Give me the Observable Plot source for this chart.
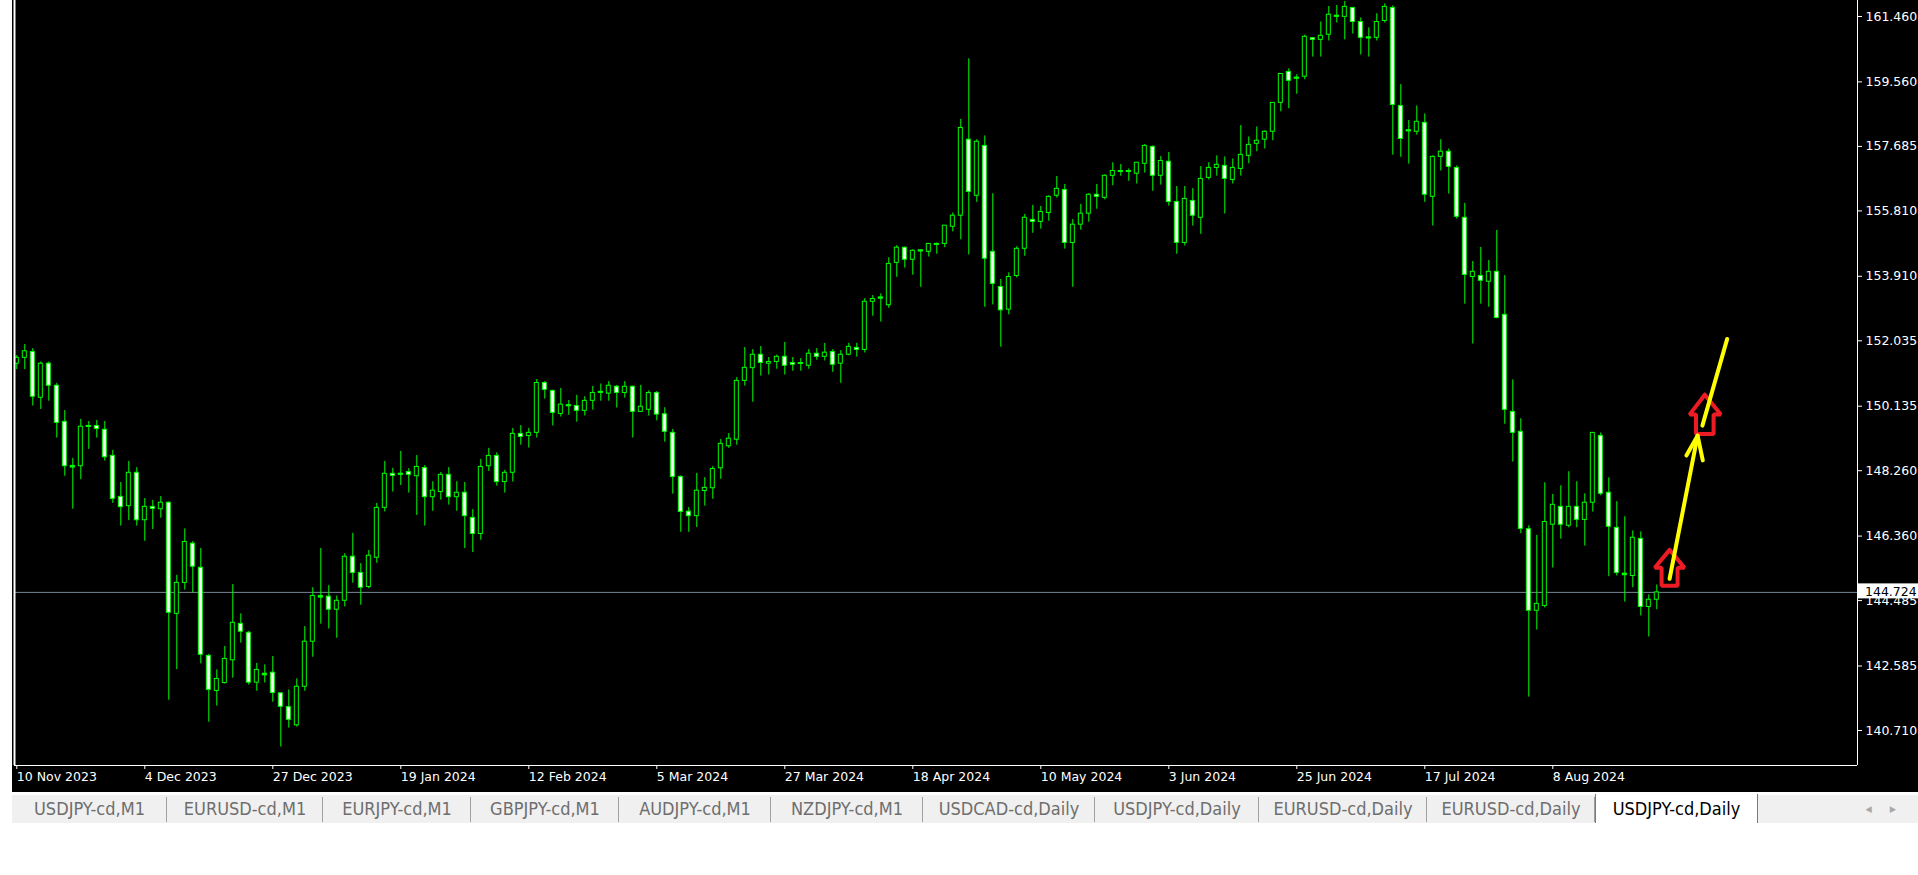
<!DOCTYPE html>
<html><head><meta charset="utf-8">
<script src="https://cdn.jsdelivr.net/npm/d3@7"></script>
<script src="https://cdn.jsdelivr.net/npm/@observablehq/plot@0.6"></script>
<style>
html,body{margin:0;padding:0;background:#fff;width:1918px;height:875px;overflow:hidden;}
#chart{position:absolute;left:12px;top:0;}
#tabs{position:absolute;left:12px;top:795px;width:1906px;height:28px;background:#f0f0f0;display:flex;
  font-family:"DejaVu Sans Condensed","DejaVu Sans",sans-serif;font-stretch:condensed;font-size:18px;color:#6e6e6e;}
.tab{line-height:28px;position:relative;white-space:nowrap;box-sizing:border-box;text-align:center;flex:none;}
.tab::after{content:"";position:absolute;right:0;top:2px;bottom:1px;border-right:1px solid #a0a0a0;}
.tab.active{background:#fff;color:#000;margin-top:-1px;height:29px;line-height:29px;border-left:1px solid #7a7a7a;border-right:1px solid #7a7a7a;}
.tab.active::after{display:none;}
#scroll{position:absolute;right:4px;top:0;line-height:28px;font-size:9px;color:#a8a8a8;letter-spacing:18px;font-family:"DejaVu Sans",sans-serif;}
</style></head>
<body>
<div id="chart"></div>
<div id="tabs"></div>
<script>
// ---- data (USDJPY daily, bar index 0 = 10 Nov 2023) ----
const opens = [
151.37,151.54,151.71,150.38,151.37,150.73,149.68,148.40,148.39,149.54,
149.56,149.45,148.69,147.50,147.23,148.20,146.82,147.21,147.14,147.33,
144.10,145.00,146.14,145.44,142.88,141.86,142.09,142.75,143.81,143.55,
142.10,142.36,142.39,141.79,141.39,140.86,141.98,143.29,144.62,144.60,
144.22,144.48,145.76,145.29,144.88,145.73,147.18,148.17,148.15,148.22,
148.10,148.34,147.49,147.64,148.14,147.49,147.62,146.89,146.42,148.39,
148.69,147.93,148.20,149.33,149.27,149.36,150.81,150.58,149.91,150.14,
150.14,150.00,150.29,150.53,150.50,150.70,150.52,150.70,149.97,150.03,
150.52,149.90,149.36,148.08,147.07,146.94,147.67,147.75,148.33,148.97,
149.16,150.87,151.24,151.63,151.37,151.42,151.57,151.39,151.37,151.31,
151.66,151.57,151.71,151.37,151.63,151.83,151.77,153.17,153.27,153.07,
154.30,154.74,154.39,154.64,154.62,154.83,154.85,155.35,155.67,157.88,
156.25,157.70,154.62,153.60,152.94,153.92,154.71,155.55,155.49,155.75,
156.25,156.42,154.88,155.41,155.73,156.28,156.19,156.83,156.95,156.95,
156.89,157.18,157.67,156.83,157.24,156.07,154.88,156.10,155.61,156.77,
157.06,157.12,156.71,157.03,157.41,157.76,157.88,158.11,158.95,159.85,
159.66,159.71,160.83,160.78,160.93,161.46,161.45,161.71,161.30,160.83,
160.84,161.33,161.71,158.86,158.13,158.11,158.37,156.22,157.38,157.53,
157.06,155.61,153.89,153.92,153.75,154.04,152.79,149.97,149.39,146.56,
144.19,144.33,146.69,147.21,146.66,147.21,146.83,147.33,149.27,147.62,
146.60,145.27,145.20,146.28,144.30,144.51];
const highs = [
151.61,151.93,151.81,151.42,151.42,150.80,150.01,148.62,149.75,149.69,
149.72,149.69,148.85,147.92,148.53,148.35,147.45,147.40,147.51,147.35,
145.22,146.57,146.20,146.00,142.92,142.47,143.15,144.95,144.10,143.59,
142.66,142.62,142.86,141.80,141.89,142.21,143.73,144.86,146.00,144.92,
144.62,145.85,146.44,145.56,145.94,147.31,148.53,148.33,148.82,148.32,
148.70,148.41,147.94,148.21,148.35,147.94,147.92,147.13,148.59,148.91,
148.78,148.27,149.49,149.57,149.49,150.91,150.85,150.60,150.65,150.30,
150.45,150.41,150.71,150.78,150.85,150.74,150.85,150.72,150.74,150.58,
150.56,150.09,149.46,148.11,147.19,148.18,148.06,148.38,149.17,149.34,
150.97,151.84,151.78,151.87,151.55,151.62,151.99,151.55,151.52,151.78,
151.81,151.96,151.78,151.75,151.96,151.96,153.26,153.35,153.40,154.45,
154.80,154.76,154.68,154.68,154.86,154.88,155.38,155.75,158.47,160.23,
157.88,157.99,156.31,153.82,154.01,154.77,155.71,155.97,155.94,156.25,
156.81,156.58,155.56,156.00,156.31,156.58,156.86,157.21,157.16,157.03,
157.21,157.74,157.70,157.39,157.51,156.52,156.52,156.46,157.10,157.21,
157.41,157.38,157.32,158.29,157.96,158.25,158.14,158.95,159.79,159.94,
159.77,160.92,160.83,161.30,161.75,161.78,161.90,161.71,161.42,161.13,
161.54,161.83,161.77,159.48,158.44,158.86,158.63,157.41,157.88,157.61,
157.12,156.03,154.34,154.75,154.37,155.24,153.93,150.90,149.77,146.66,
146.38,147.91,147.57,147.82,148.23,147.94,147.59,149.36,149.36,148.05,
147.36,146.92,146.51,146.48,144.65,144.94];
const lows = [
151.20,151.20,150.14,150.04,150.28,149.21,148.10,147.14,148.00,148.88,
149.21,148.54,147.31,146.65,146.81,146.65,146.21,146.55,146.88,141.59,
142.48,144.79,144.71,142.65,140.95,141.42,142.06,142.23,143.25,142.03,
141.85,142.09,141.53,140.23,140.78,140.81,141.85,142.84,143.80,143.66,
143.39,144.30,144.99,144.35,144.83,145.57,147.06,147.64,147.83,147.61,
146.96,146.65,147.08,147.40,147.26,147.08,146.00,145.88,146.24,148.24,
147.81,147.61,147.93,149.00,148.92,149.21,150.34,149.56,149.82,149.87,
149.67,149.85,150.02,150.28,150.28,150.08,150.37,149.21,149.95,149.85,
149.71,149.09,147.58,146.47,146.47,146.61,147.23,147.43,148.01,148.91,
149.00,150.72,150.25,151.01,151.04,151.21,151.04,151.15,151.15,151.21,
151.47,151.45,151.12,150.80,151.60,151.56,151.68,152.75,152.58,152.98,
153.88,154.15,153.94,153.59,154.47,154.55,154.74,155.20,154.97,154.53,
156.06,153.01,153.08,151.85,152.79,153.86,154.49,155.16,155.28,155.51,
156.18,154.70,153.59,155.25,155.48,155.86,156.13,156.54,156.82,156.67,
156.59,156.91,156.38,156.56,155.95,154.55,154.79,155.37,155.13,156.71,
156.82,155.72,156.59,156.82,157.18,157.53,157.61,157.85,158.69,158.78,
159.20,159.62,160.28,160.28,160.75,161.27,160.78,160.95,160.34,160.28,
160.75,161.27,157.43,157.37,157.17,158.01,156.06,155.37,156.97,156.30,
155.57,153.10,151.94,153.10,153.01,152.67,149.61,148.51,146.43,141.68,
143.63,144.27,145.43,146.27,146.60,146.60,146.07,147.06,147.53,145.18,
145.20,144.44,144.86,144.04,143.43,144.22];
const closes = [
151.54,151.73,150.41,151.37,150.73,149.65,148.39,148.38,149.54,149.56,
149.47,148.65,147.44,147.20,148.20,146.82,147.21,147.15,147.33,144.13,
145.00,146.19,145.47,142.91,141.89,142.21,142.79,143.84,143.58,142.10,
142.47,142.34,141.80,141.40,141.02,141.98,143.29,144.62,144.60,144.22,
144.48,145.76,145.29,144.86,145.79,147.18,148.17,148.11,148.17,148.14,
148.37,147.49,147.68,148.14,147.49,147.62,146.94,146.42,148.37,148.69,
147.93,148.20,149.33,149.24,149.36,150.81,150.61,149.94,150.18,150.16,
150.00,150.29,150.52,150.55,150.73,150.52,150.70,149.97,150.12,150.52,
149.89,149.39,148.08,147.06,146.94,147.68,147.76,148.31,149.04,149.19,
150.87,151.25,151.63,151.39,151.42,151.57,151.31,151.34,151.39,151.66,
151.57,151.69,151.34,151.63,151.86,151.77,153.17,153.25,153.29,154.27,
154.74,154.39,154.65,154.66,154.85,154.85,155.38,155.67,158.22,156.36,
157.82,154.42,153.69,152.92,153.89,154.71,155.61,155.49,155.78,156.22,
156.45,154.88,155.41,155.73,156.28,156.22,156.83,156.97,156.97,156.97,
157.21,157.70,156.83,157.26,156.07,154.88,156.16,155.67,156.74,157.06,
157.15,156.74,157.06,157.44,157.73,157.85,158.11,158.95,159.79,159.59,
159.68,160.87,160.78,160.90,161.51,161.48,161.74,161.30,160.84,160.85,
161.30,161.74,158.89,157.90,158.15,158.40,156.28,157.38,157.53,157.09,
155.64,153.95,154.04,153.78,154.04,152.70,150.03,149.36,146.57,144.19,
144.39,146.77,147.27,146.69,147.21,146.83,147.33,149.36,147.59,146.63,
145.29,145.25,146.31,144.30,144.51,144.724];

const dateTickIdx = [0,16,32,48,64,80,96,112,128,144,160,176,192];
const dateLabels = ["10 Nov 2023","4 Dec 2023","27 Dec 2023","19 Jan 2024","12 Feb 2024","5 Mar 2024",
  "27 Mar 2024","18 Apr 2024","10 May 2024","3 Jun 2024","25 Jun 2024","17 Jul 2024","8 Aug 2024"];
const priceTicks = [161.460,159.560,157.685,155.810,153.910,152.035,150.135,148.260,146.360,144.485,142.585,140.710];
const lastPrice = 144.724;
const tabNames = ["USDJPY-cd,M1","EURUSD-cd,M1","EURJPY-cd,M1","GBPJPY-cd,M1","AUDJPY-cd,M1","NZDJPY-cd,M1",
  "USDCAD-cd,Daily","USDJPY-cd,Daily","EURUSD-cd,Daily","EURUSD-cd,Daily","USDJPY-cd,Daily"];
const activeTab = 10;

// hand-drawn annotations, in (bar index, price)
const redArrow1 = [[206.6,145.96],[208.46,145.44],[207.6,145.44],[207.6,144.92],[205.6,144.92],[205.6,145.44],[204.75,145.44],[206.6,145.96]];
const redArrow2 = [[211.0,150.47],[213.0,149.89],[212.1,149.89],[212.1,149.33],[209.9,149.33],[209.9,149.89],[209.1,149.89],[211.0,150.47]];
const yellowLine1 = [[206.6,145.12],[210.1,149.28]];
const yellowHead1 = [[208.7,148.70],[210.1,149.28],[210.75,148.56]];
const yellowLine2 = [[210.7,149.57],[213.8,152.09]];

// ---- layout (styling, not data) ----
const tabWidthsPx = [155, 156, 148, 148, 152, 152, 172, 164, 168, 168, 163];

// ---- build ----
const bars = opens.map((o, i) => ({i, o, h: highs[i], l: lows[i], c: closes[i]}));
const dojis = bars.filter(d => Math.abs(d.c - d.o) < 0.035);
const toPts = (arr, id) => arr.map(([x, y]) => ({x, y, id}));
const redPts = [...toPts(redArrow1, "a1"), ...toPts(redArrow2, "a2")];
const yellowPts = [...toPts(yellowLine1, "l1"), ...toPts(yellowHead1, "h1"), ...toPts(yellowLine2, "l2")];

const xDomain = [-0.2875, 230.0875];
const yDomain = [139.693, 161.925];
const W = 1906, H = 792, MR = 61;
const LIME = "#00ff00";

const chart = Plot.plot({
  width: W, height: H,
  marginLeft: 2, marginRight: MR, marginTop: 0, marginBottom: 27,
  x: {domain: xDomain},
  y: {domain: yDomain},
  style: {background: "#000", color: "#fff", fontFamily: "DejaVu Sans, sans-serif", fontSize: "12.5px", overflow: "visible"},
  marks: [
    Plot.ruleY([lastPrice], {stroke: "#778899"}),
    Plot.ruleX(bars, {x: "i", y1: "l", y2: "h", stroke: LIME, strokeWidth: 1}),
    Plot.rect(bars, {x1: d => d.i - 0.25, x2: d => d.i + 0.25, y1: "o", y2: "c",
      fill: d => d.c < d.o ? "#fff" : "#000", stroke: LIME, strokeWidth: 1}),
    Plot.ruleY(dojis, {y: "c", x1: d => d.i - 0.31, x2: d => d.i + 0.31, stroke: LIME, strokeWidth: 2}),
    Plot.line(redPts, {x: "x", y: "y", z: "id", stroke: "#ed1c24", strokeWidth: 4, strokeLinejoin: "miter", curve: "linear"}),
    Plot.line(yellowPts, {x: "x", y: "y", z: "id", stroke: "#ffff00", strokeWidth: 4, strokeLinecap: "round", strokeLinejoin: "round", curve: "linear"}),
    Plot.ruleX([xDomain[0]], {stroke: "#fff", strokeWidth: 2}),
    Plot.ruleX([xDomain[1]], {stroke: "#fff"}),
    Plot.ruleY([yDomain[0]], {stroke: "#fff"}),
    Plot.axisY(priceTicks, {anchor: "right", tickSize: 4, tickPadding: 4, tickFormat: d => d.toFixed(3), label: null}),
    Plot.axisX(dateTickIdx, {anchor: "bottom", tickSize: 4, tickPadding: 3, textAnchor: "start",
      tickFormat: d => dateLabels[dateTickIdx.indexOf(d)], label: null})
  ]
});
document.getElementById("chart").appendChild(chart);

// current price label box on the price axis
const yPx = chart.scale("y").apply(lastPrice);
const g = d3.select(chart).append("g").attr("text-anchor", "start");
g.append("rect").attr("x", W - MR + 1).attr("y", yPx - 8.5).attr("width", MR - 1).attr("height", 15).attr("fill", "#fff");
g.append("text").attr("x", W - MR + 8).attr("y", yPx).attr("dy", "0.32em").attr("fill", "#000")
  .attr("text-anchor", "start")
  .attr("font-family", "DejaVu Sans, sans-serif").attr("font-size", "12.5px").text(lastPrice.toFixed(3));

// tab bar
const tabs = d3.select("#tabs");
tabNames.forEach((t, k) => tabs.append("div")
  .attr("class", "tab" + (k === activeTab ? " active" : ""))
  .style("width", tabWidthsPx[k] + "px")
  .text(t));
tabs.append("div").attr("id", "scroll").text("◀▶");
</script>
</body></html>
